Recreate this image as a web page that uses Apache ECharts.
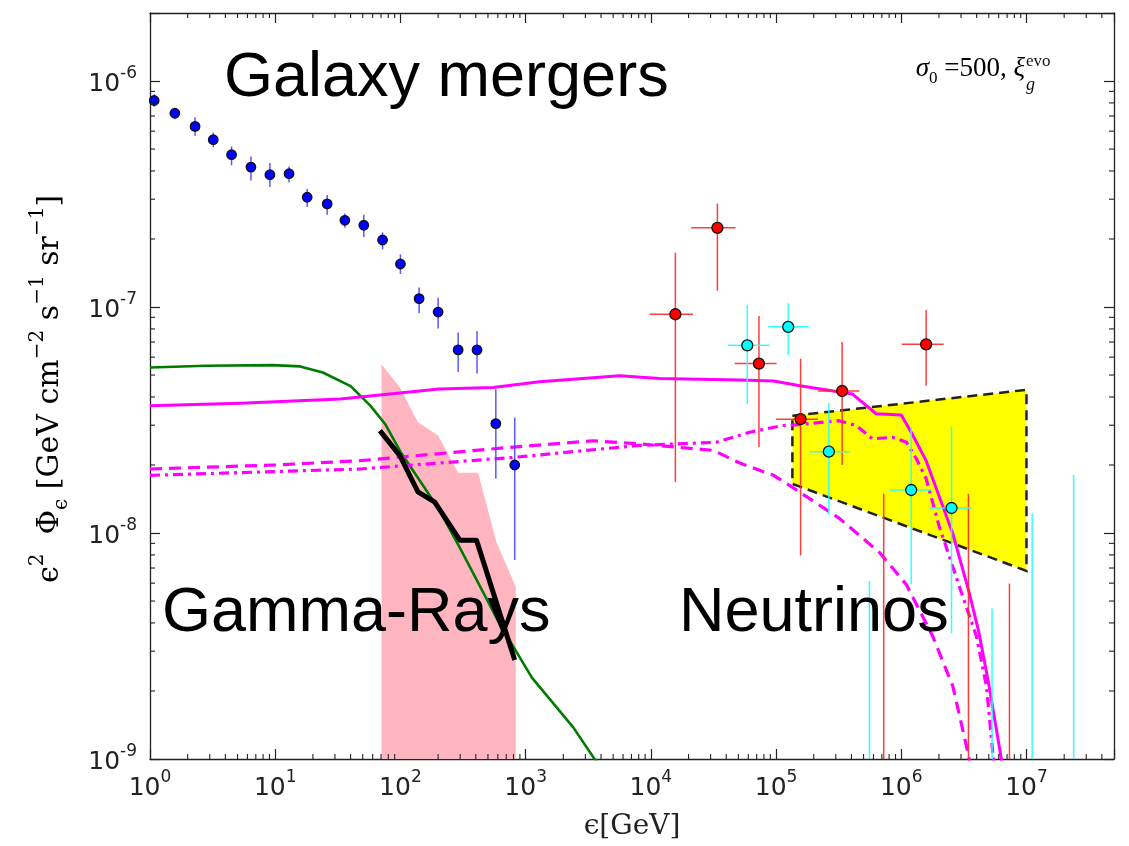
<!DOCTYPE html>
<html><head><meta charset="utf-8">
<script src="https://cdn.jsdelivr.net/npm/echarts@6/dist/echarts.min.js"></script>
<style>html,body{margin:0;padding:0;background:#fff}#c{width:1129px;height:846px}</style>
</head><body><div id="c"></div>
<script>
// ---------------- data (energies in GeV, fluxes in GeV cm^-2 s^-1 sr^-1) ----------------
const X_MIN = 1, X_MAX = 5e7;
const Y_MIN = 1e-9, Y_MAX = 2e-6;
const xTickExps = [0, 1, 2, 3, 4, 5, 6, 7];
const yTickExps = [-9, -8, -7, -6];

// Fermi IGRB data (blue)
const igrbE  = [1.08, 1.58, 2.29, 3.2, 4.48, 6.4, 9.07, 12.9, 18, 26, 36, 51, 72, 100, 141, 200, 289, 409, 578, 818];
const igrbF  = [8.2e-7, 7.2e-7, 6.3e-7, 5.5e-7, 4.72e-7, 4.16e-7, 3.85e-7, 3.89e-7, 3.06e-7, 2.86e-7, 2.42e-7, 2.3e-7, 1.98e-7, 1.55e-7, 1.09e-7, 9.5e-8, 6.46e-8, 6.46e-8, 3.05e-8, 2.0e-8];
const igrbHi = [8.75e-7, 7.59e-7, 6.92e-7, 5.91e-7, 5.13e-7, 4.63e-7, 4.34e-7, 4.19e-7, 3.33e-7, 3.13e-7, 2.59e-7, 2.56e-7, 2.14e-7, 1.71e-7, 1.22e-7, 1.1e-7, 7.71e-8, 7.83e-8, 4.33e-8, 3.24e-8];
const igrbLo = [7.7e-7, 6.78e-7, 5.73e-7, 5.1e-7, 4.24e-7, 3.63e-7, 3.4e-7, 3.56e-7, 2.77e-7, 2.56e-7, 2.24e-7, 2.04e-7, 1.8e-7, 1.4e-7, 9.38e-8, 8.04e-8, 5.16e-8, 5.08e-8, 1.74e-8, 7.6e-9];

// IceCube neutrino points (red)
const redE   = [15700, 34000, 73000, 157000, 337000, 1.58e6];
const redF   = [9.29e-8, 2.24e-7, 5.62e-8, 3.19e-8, 4.25e-8, 6.84e-8];
const redElo = [9770, 21000, 46700, 1.0e5, 216000, 1.01e6];
const redEhi = [21700, 47500, 101000, 216000, 463000, 2.18e6];
const redFlo = [1.68e-8, 1.18e-7, 2.4e-8, 7.96e-9, 2.0e-8, 4.48e-8];
const redFhi = [1.74e-7, 2.87e-7, 9.12e-8, 5.9e-8, 7.0e-8, 9.7e-8];
const redLimE   = [7.24e5, 3.44e6, 7.31e6];
const redLimTop = [1.49e-8, 1.49e-8, 5.97e-9];

// IceCube neutrino points (cyan)
const cyanE   = [5.89e4, 1.25e5, 2.64e5, 1.2e6, 2.52e6];
const cyanF   = [6.77e-8, 8.17e-8, 2.29e-8, 1.55e-8, 1.29e-8];
const cyanElo = [41200, 86100, 185000, 805000, 1.7e6];
const cyanEhi = [88700, 183000, 391000, 1.75e6, 3.66e6];
const cyanFlo = [3.72e-8, 6.14e-8, 1.2e-8, 5.93e-9, 3.6e-9];
const cyanFhi = [1.02e-7, 1.04e-7, 3.76e-8, 2.94e-8, 2.96e-8];
const cyanLimE   = [5.57e5, 5.31e6, 1.11e7, 2.38e7];
const cyanLimTop = [6.14e-9, 4.63e-9, 1.22e-8, 1.81e-8];

// model curves
const greenE = [1, 2.8, 9.5, 15.8, 24, 40, 57.5, 76, 100, 200, 295, 617, 1122, 2400, 3550, 4470];
const greenF = [5.4e-8, 5.5e-8, 5.53e-8, 5.46e-8, 5.13e-8, 4.47e-8, 3.66e-8, 3.02e-8, 2.29e-8, 1.29e-8, 8.7e-9, 3.98e-9, 2.29e-9, 1.38e-9, 1.0e-9, 9.0e-10];

const magE = [1, 5.25, 33, 204, 550, 1290, 5620, 11750, 51300, 95500, 155000, 407000, 631000, 1.0e6, 1.2e6, 1.58e6, 2.57e6, 3.47e6, 4.17e6, 5.0e6, 6.3e6, 6.76e6];
const magF = [3.66e-8, 3.75e-8, 3.92e-8, 4.34e-8, 4.4e-8, 4.67e-8, 4.97e-8, 4.83e-8, 4.76e-8, 4.71e-8, 4.48e-8, 4.12e-8, 3.37e-8, 3.33e-8, 2.79e-8, 2.09e-8, 1.0e-8, 5.5e-9, 3.63e-9, 2.14e-9, 1.0e-9, 7.9e-10];

const magDashE = [1, 10, 47.9, 794, 3470, 8130, 15800, 31600, 51300, 95500, 129000, 321000, 670000, 1.1e6, 1.78e6, 2.58e6, 3.39e6, 3.63e6];
const magDashF = [1.92e-8, 2.0e-8, 2.09e-8, 2.4e-8, 2.56e-8, 2.48e-8, 2.4e-8, 2.32e-8, 2.04e-8, 1.8e-8, 1.62e-8, 1.16e-8, 8.2e-9, 5.9e-9, 3.5e-9, 2.1e-9, 1.08e-9, 8.9e-10];

const magDotE = [1, 47.9, 794, 7940, 33100, 61700, 112000, 155000, 316000, 437000, 589000, 851000, 1.1e6, 1.32e6, 1.58e6, 2.0e6, 2.88e6, 3.98e6, 4.79e6, 5.37e6, 5.75e6];
const magDotF = [1.8e-8, 1.92e-8, 2.16e-8, 2.44e-8, 2.52e-8, 2.79e-8, 2.99e-8, 3.02e-8, 3.14e-8, 2.99e-8, 2.61e-8, 2.65e-8, 2.52e-8, 2.13e-8, 1.74e-8, 1.08e-8, 5.9e-9, 3.5e-9, 2.1e-9, 1.08e-9, 7.9e-10];

const fermiLineE = [68.5, 99, 138, 188, 298, 405, 818];
const fermiLineF = [2.84e-8, 2.2e-8, 1.52e-8, 1.37e-8, 9.3e-9, 9.3e-9, 2.74e-9];

const pinkE = [70.6, 70.6, 99, 138, 200, 289, 417, 585, 834, 834];
const pinkF = [1e-9, 5.58e-8, 4.4e-8, 3.09e-8, 2.7e-8, 1.85e-8, 1.85e-8, 9.1e-9, 5.78e-9, 1e-9];

const yellowE = [1.35e5, 1e7, 1e7, 1.35e5];
const yellowF = [3.3e-8, 4.3e-8, 6.8e-9, 1.65e-8];

// ---------------- chart ----------------
const L = Math.log10;
const XL = [L(X_MIN), L(X_MAX)], YL = [L(Y_MIN), L(Y_MAX)];
const pts = (E, F) => E.map((e, i) => [L(e), L(F[i])]);
const minor = (exps, lo, hi) => {
  const out = [];
  exps.forEach(n => { for (let k = 2; k <= 9; k++) { const v = n + L(k); if (v > lo && v < hi) out.push(v); } });
  return out;
};
const xMinor = minor([...xTickExps], XL[0], XL[1]);
const yMinor = minor([...yTickExps], YL[0], YL[1]);

const tickRich = {
  b: { fontFamily: 'DejaVu Sans', fontSize: 25, color: '#222', lineHeight: 32, verticalAlign: 'bottom' },
  s: { fontFamily: 'DejaVu Sans', fontSize: 17, color: '#222', lineHeight: 19, verticalAlign: 'top' }
};
const fmt = v => { const r = Math.round(v); return Math.abs(v - r) > 1e-6 ? '' : '{b|10}{s|' + r + '}'; };
const axisCommon = {
  type: 'value', interval: 1, splitLine: { show: false },
  axisLine: { show: true, onZero: false, lineStyle: { color: '#222', width: 1.3 } },
  axisTick: { show: true, inside: true, length: 10, lineStyle: { color: '#222', width: 1.2 } }
};

function polySeries(E, F, style, z) {
  return {
    type: 'custom', z, silent: true, clip: true, encode: { x: 0, y: 1 },
    data: [[L(E[0]), L(F[0])]],
    renderItem: (p, api) => ({
      type: 'polygon',
      shape: { points: E.map((e, i) => api.coord([L(e), L(F[i])])) },
      style
    })
  };
}
function errSeries(E, F, Elo, Ehi, Flo, Fhi, color, z) {
  return {
    type: 'custom', z, silent: true, clip: true, encode: { x: 0, y: 1 },
    data: pts(E, F),
    renderItem: (p, api) => {
      const i = p.dataIndex, x = L(E[i]), y = L(F[i]);
      const ch = [];
      const a = api.coord([x, L(Flo[i])]), b = api.coord([x, L(Fhi[i])]);
      ch.push({ type: 'line', shape: { x1: a[0], y1: a[1], x2: b[0], y2: b[1] }, style: { stroke: color, lineWidth: 1.5 } });
      if (Elo) {
        const c = api.coord([L(Elo[i]), y]), d = api.coord([L(Ehi[i]), y]);
        ch.push({ type: 'line', shape: { x1: c[0], y1: c[1], x2: d[0], y2: d[1] }, style: { stroke: color, lineWidth: 1.5 } });
      }
      return { type: 'group', children: ch };
    }
  };
}
function limSeries(E, top, color, z) {
  return {
    type: 'custom', z, silent: true, clip: true, encode: { x: 0, y: 1 },
    data: pts(E, top),
    renderItem: (p, api) => {
      const i = p.dataIndex;
      const a = api.coord([L(E[i]), L(top[i])]), b = api.coord([L(E[i]), YL[0]]);
      return { type: 'line', shape: { x1: a[0], y1: a[1], x2: b[0], y2: b[1] }, style: { stroke: color, lineWidth: 1.5 } };
    }
  };
}
function minorX() {
  return {
    type: 'custom', z: 20, silent: true, clip: false, encode: { x: 0, y: 1 },
    data: xMinor.map(v => [v, YL[0]]),
    renderItem: (p, api) => {
      const v = xMinor[p.dataIndex];
      const a = api.coord([v, YL[0]]), b = api.coord([v, YL[1]]);
      const st = { stroke: '#222', lineWidth: 1.1 };
      return { type: 'group', children: [
        { type: 'line', shape: { x1: a[0], y1: a[1], x2: a[0], y2: a[1] - 5 }, style: st },
        { type: 'line', shape: { x1: b[0], y1: b[1], x2: b[0], y2: b[1] + 5 }, style: st }
      ] };
    }
  };
}
function minorY() {
  return {
    type: 'custom', z: 20, silent: true, clip: false, encode: { x: 0, y: 1 },
    data: yMinor.map(v => [XL[0], v]),
    renderItem: (p, api) => {
      const v = yMinor[p.dataIndex];
      const a = api.coord([XL[0], v]), b = api.coord([XL[1], v]);
      const st = { stroke: '#222', lineWidth: 1.1 };
      return { type: 'group', children: [
        { type: 'line', shape: { x1: a[0], y1: a[1], x2: a[0] + 5, y2: a[1] }, style: st },
        { type: 'line', shape: { x1: b[0], y1: b[1], x2: b[0] - 5, y2: b[1] }, style: st }
      ] };
    }
  };
}
const lineS = (E, F, color, width, dash, z) => ({
  type: 'line', data: pts(E, F), symbol: 'none', clip: true, z, silent: true,
  lineStyle: { color, width, type: dash || 'solid', cap: 'butt', join: 'round' }
});
const scat = (E, F, color, size, z) => ({
  type: 'scatter', data: pts(E, F), symbol: 'circle', symbolSize: size, z, silent: true,
  itemStyle: { color, borderColor: '#111', borderWidth: 1.3, opacity: 1 }
});

const chart = echarts.init(document.getElementById('c'), null, { renderer: 'canvas' });
chart.setOption({
  animation: false,
  backgroundColor: '#fff',
  grid: { left: 150, top: 13, width: 964, height: 747, containLabel: false },
  xAxis: [
    Object.assign({}, axisCommon, { min: XL[0], max: XL[1], position: 'bottom',
      axisLabel: { formatter: fmt, rich: tickRich, margin: 10 },
      name: 'ϵ[GeV]', nameLocation: 'middle', nameGap: 54,
      nameTextStyle: { fontFamily: 'DejaVu Serif', fontSize: 28, color: '#222' } }),
    Object.assign({}, axisCommon, { min: XL[0], max: XL[1], position: 'top', axisLabel: { show: false } })
  ],
  yAxis: [
    Object.assign({}, axisCommon, { min: YL[0], max: YL[1], position: 'left',
      axisLabel: { formatter: fmt, rich: tickRich, margin: 13 } }),
    Object.assign({}, axisCommon, { min: YL[0], max: YL[1], position: 'right', axisLabel: { show: false } })
  ],
  series: [
    polySeries(pinkE, pinkF, { fill: '#ffb6c1', stroke: 'none' }, 1),
    polySeries(yellowE, yellowF, { fill: '#ffff00', stroke: 'none' }, 1),
    polySeries(yellowE, yellowF, { fill: 'none', stroke: '#222', lineWidth: 2.5, lineDash: [10, 6] }, 2),
    lineS(greenE, greenF, '#007a00', 2.6, null, 3),
    lineS(magDashE, magDashF, '#ff00ff', 3.2, [12, 7], 3),
    lineS(magDotE, magDotF, '#ff00ff', 3.2, [10, 5, 3, 5], 3),
    lineS(magE, magF, '#ff00ff', 3, null, 3),
    lineS(fermiLineE, fermiLineF, '#000000', 5, null, 4),
    errSeries(igrbE, igrbF, null, null, igrbLo, igrbHi, 'rgba(70,70,255,0.9)', 5),
    scat(igrbE, igrbF, '#0000ff', 9.5, 6),
    errSeries(redE, redF, redElo, redEhi, redFlo, redFhi, 'rgba(255,40,40,0.9)', 5),
    limSeries(redLimE, redLimTop, 'rgba(255,40,40,0.9)', 5),
    errSeries(cyanE, cyanF, cyanElo, cyanEhi, cyanFlo, cyanFhi, 'rgba(40,255,255,0.95)', 5),
    limSeries(cyanLimE, cyanLimTop, 'rgba(40,255,255,0.95)', 5),
    scat(redE, redF, '#ff0000', 11, 6),
    scat(cyanE, cyanF, '#00ffff', 11, 6),
    minorX(),
    minorY()
  ],
  graphic: [
    { type: 'text', x: 224, y: 79, z: 50, silent: true,
      style: { text: 'Galaxy mergers', font: '63px "Liberation Sans", Arial, sans-serif', fill: '#000', verticalAlign: 'middle' } },
    { type: 'text', x: 162, y: 614, z: 50, silent: true,
      style: { text: 'Gamma-Rays', font: '63px "Liberation Sans", Arial, sans-serif', fill: '#000', verticalAlign: 'middle' } },
    { type: 'text', x: 679, y: 614, z: 50, silent: true,
      style: { text: 'Neutrinos', font: '63px "Liberation Sans", Arial, sans-serif', fill: '#000', verticalAlign: 'middle' } },
    { type: 'text', x: 1025, y: 71, z: 50, silent: true,
      style: { text: '{i|σ}{sb|0}{n| =500, }{i|ξ}', align: 'right', verticalAlign: 'middle',
        rich: {
          i: { fontFamily: 'Liberation Serif', fontStyle: 'italic', fontSize: 27, lineHeight: 32, verticalAlign: 'top', color: '#111' },
          n: { fontFamily: 'Liberation Serif', fontSize: 27, lineHeight: 32, verticalAlign: 'top', color: '#111' },
          sb: { fontFamily: 'Liberation Serif', fontSize: 17, lineHeight: 15, verticalAlign: 'bottom', color: '#111' }
        } } },
    { type: 'text', x: 1026, y: 85, z: 50, silent: true,
      style: { text: 'g', font: 'italic 18px "Liberation Serif", serif', fill: '#111', verticalAlign: 'middle' } },
    { type: 'text', x: 1026, y: 62, z: 50, silent: true,
      style: { text: 'evo', font: '17px "Liberation Serif", serif', fill: '#111', verticalAlign: 'middle' } },
    { type: 'text', x: 50, y: 389, rotation: Math.PI / 2, z: 50, silent: true,
      style: { text: '{m|ϵ}{sp|2}{m|  Φ}{sb|ϵ}{m| [GeV cm}{sp|−2}{m| s}{sp|−1}{m| sr}{sp|−1}{m|]}',
        align: 'center', verticalAlign: 'middle',
        rich: {
          m: { fontFamily: 'DejaVu Serif', fontSize: 30, lineHeight: 44, verticalAlign: 'middle', color: '#222' },
          sp: { fontFamily: 'DejaVu Serif', fontSize: 20, lineHeight: 22, verticalAlign: 'top', color: '#222' },
          sb: { fontFamily: 'DejaVu Serif', fontSize: 20, lineHeight: 22, verticalAlign: 'bottom', color: '#222' }
        } } }
  ]
});
</script>
</body></html>
